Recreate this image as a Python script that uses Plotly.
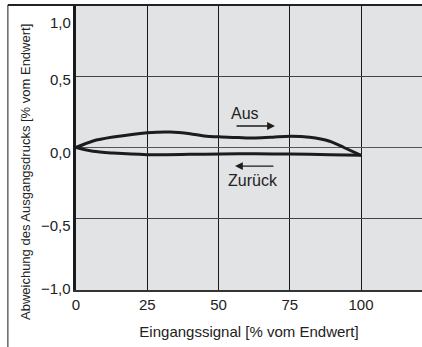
import plotly.graph_objects as go

# Data
x_aus = [0, 6, 13, 25, 33, 40, 45, 51, 57, 63, 69, 75, 82, 89, 94, 100]
y_aus = [0, 0.046, 0.073, 0.104, 0.109, 0.097, 0.081, 0.074, 0.07, 0.067, 0.072, 0.079, 0.072, 0.044, 0.0, -0.055]
x_zur = [0, 6, 13, 25, 40, 51, 63, 75, 89, 100]
y_zur = [0, -0.027, -0.039, -0.05, -0.048, -0.045, -0.044, -0.046, -0.05, -0.055]

x_ticks = [0, 25, 50, 75, 100]
y_ticks = [-1.0, -0.5, 0.0, 0.5, 1.0]
y_tick_labels = ["\u22121,0", "\u22120,5", "0,0", "0,5", "1,0"]
label_aus = "Aus"
label_zur = "Zurück"
x_title = "Eingangssignal [% vom Endwert]"
y_title = "Abweichung des Ausgangsdrucks [% vom Endwert]"

FONT = "Liberation Sans, Arial, sans-serif"
TXT = "#222222"
LINE = "#1c1c1c"

fig = go.Figure()
fig.add_trace(go.Scatter(x=x_aus, y=y_aus, mode="lines",
                         line=dict(color=LINE, width=3, shape="spline", smoothing=0.8),
                         showlegend=False, hoverinfo="skip"))
fig.add_trace(go.Scatter(x=x_zur, y=y_zur, mode="lines",
                         line=dict(color=LINE, width=3, shape="spline", smoothing=0.8),
                         showlegend=False, hoverinfo="skip"))

# y tick labels (per-label vertical offsets as in the original)
y_label_shift = [2, -7, -5, -3, -17]
for v, lab, sh in zip(y_ticks, y_tick_labels, y_label_shift):
    fig.add_annotation(x=0, y=v, xref="x", yref="y", text=lab, showarrow=False,
                       xanchor="right", yanchor="middle", xshift=-3, yshift=sh,
                       font=dict(family=FONT, size=15, color=TXT))

# y axis title
fig.add_annotation(x=0, y=0.414, xref="paper", yref="paper", text=y_title,
                   showarrow=False, textangle=-90, xanchor="center", yanchor="middle",
                   xshift=-51, font=dict(family=FONT, size=13, color=TXT))

# Direction labels and arrows
fig.add_annotation(x=59.3, y=0.242, text=label_aus, showarrow=False,
                   font=dict(family=FONT, size=16, color=TXT))
fig.add_annotation(x=69.8, y=0.151, ax=55.8, ay=0.151, axref="x", ayref="y",
                   text="", showarrow=True, arrowhead=2, arrowsize=1.2, arrowwidth=1.3,
                   arrowcolor=LINE)
fig.add_annotation(x=62.1, y=-0.235, text=label_zur, showarrow=False,
                   font=dict(family=FONT, size=16, color=TXT))
fig.add_annotation(x=55.8, y=-0.13, ax=69.8, ay=-0.13, axref="x", ayref="y",
                   text="", showarrow=True, arrowhead=2, arrowsize=1.2, arrowwidth=1.3,
                   arrowcolor=LINE)

# Outer frame lines (left and top)
fig.add_shape(type="line", xref="paper", yref="paper", x0=-0.197, x1=-0.197, y0=1, y1=-0.25,
              line=dict(color="#666666", width=1.5))
fig.add_shape(type="line", xref="paper", yref="paper", x0=-0.197, x1=1, y0=1, y1=1,
              line=dict(color="#222222", width=2))

fig.update_layout(
    width=422, height=347,
    margin=dict(l=76, r=0, t=5, b=57),
    paper_bgcolor="white",
    plot_bgcolor="#e2e3e5",
    separators=",.",
    font=dict(family=FONT, size=15, color=TXT),
    xaxis=dict(range=[0, 121.4], tickvals=x_ticks, showgrid=True, gridcolor="#1a1a1a",
               gridwidth=1.2, zeroline=False, showline=True, linecolor="#333333",
               linewidth=2, ticks="", tickfont=dict(family=FONT, size=15, color=TXT),
               title=dict(text=x_title, standoff=14, font=dict(family=FONT, size=15, color=TXT)),
               fixedrange=True),
    yaxis=dict(range=[-1, 1], tickvals=y_ticks, showticklabels=False, showgrid=True,
               gridcolor="#444444", gridwidth=1, zeroline=True, zerolinecolor="#555555",
               zerolinewidth=1, showline=True, linecolor="#1a1a1a", linewidth=2.5,
               ticks="", fixedrange=True),
)

fig.write_html("out.html", config={"displayModeBar": False},
               post_script="document.body.style.margin='0';document.body.style.overflow='hidden';")
